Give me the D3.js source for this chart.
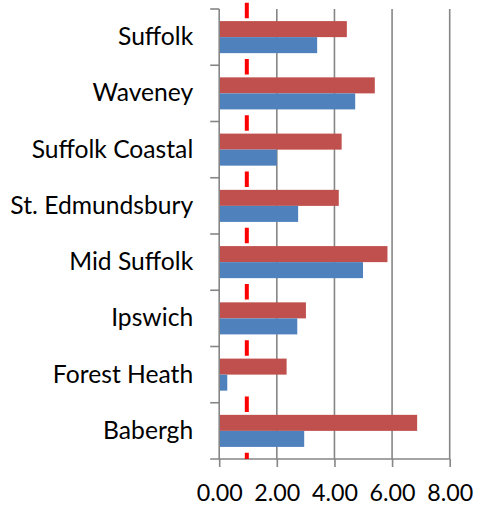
<!DOCTYPE html>
<html>
<head>
<meta charset="utf-8">
<script src="https://cdn.jsdelivr.net/npm/d3@7"></script>
<style>
  html, body { margin: 0; padding: 0; background: #fff; }
  svg { display: block; }
</style>
</head>
<body>
<svg id="chart" width="481" height="513"></svg>
<script>
// ---- data (top-to-bottom order as shown) ----
const categories = ["Suffolk", "Waveney", "Suffolk Coastal", "St. Edmundsbury",
                    "Mid Suffolk", "Ipswich", "Forest Heath", "Babergh"];
const redValues  = [4.43, 5.40, 4.25, 4.15, 5.84, 3.01, 2.34, 6.87];
const blueValues = [3.40, 4.72, 2.00, 2.74, 4.99, 2.71, 0.28, 2.95];
const xTicks = [0, 2, 4, 6, 8];
const referenceValue = 1;

(function () {
// ---- layout ----
const svg = d3.select("#chart");
const pLeft = 219.2, pRight = 449.7, pTop = 9, pBottom = 459;
const fontFamily = "Lato, 'Open Sans', sans-serif";

const x = d3.scaleLinear().domain([0, 8]).range([pLeft, pRight]);
const y = d3.scaleBand().domain(categories).range([pTop, pBottom]).padding(0);
const inner = d3.scaleBand().domain(["red", "blue"])
  .range([0, y.bandwidth()]).paddingInner(0).paddingOuter(0.755);

// measure font sizes to match reference text widths
function fitSize(str, target) {
  const probe = svg.append("text").attr("font-family", fontFamily)
    .attr("font-size", 26).text(str);
  const w = probe.node().getComputedTextLength();
  probe.remove();
  return 26 * target / w;
}
const fs = fitSize("St. Edmundsbury", 183);
const fsTick = fitSize("0.00", 46);

const gridColor = "#868686";

// vertical gridlines
svg.append("g").selectAll("line").data(xTicks.filter(d => d > 0)).join("line")
  .attr("x1", d => x(d)).attr("x2", d => x(d))
  .attr("y1", pTop).attr("y2", pBottom)
  .attr("stroke", gridColor).attr("stroke-width", 1.6);

// bars
const rows = categories.map((c, i) => ({ c, red: redValues[i], blue: blueValues[i] }));
const colors = { red: "#C0504D", blue: "#4F81BD" };
const g = svg.append("g");
["red", "blue"].forEach(s => {
  g.selectAll("rect." + s).data(rows).join("rect")
    .attr("class", s)
    .attr("x", x(0))
    .attr("y", d => y(d.c) + inner(s))
    .attr("width", d => x(d[s]) - x(0))
    .attr("height", inner.bandwidth())
    .attr("fill", colors[s]);
});

// x axis (bottom)
const xAxis = d3.axisBottom(x).tickValues(xTicks).tickSize(8)
  .tickFormat(d3.format(".2f")).tickSizeOuter(0);
const gx = svg.append("g").attr("transform", `translate(0,${pBottom})`).call(xAxis);
gx.select(".domain").remove();
gx.selectAll(".tick line").attr("stroke", gridColor).attr("stroke-width", 1.6);
gx.selectAll(".tick text").attr("font-family", fontFamily).attr("font-size", fsTick)
  .attr("fill", "#000").attr("y", 25).attr("dy", "0.71em");
svg.append("line").attr("x1", pLeft - 9).attr("x2", pRight).attr("y1", pBottom).attr("y2", pBottom)
  .attr("stroke", gridColor).attr("stroke-width", 1.6);

// y axis (left)
const yAxis = d3.axisLeft(y).tickSize(0).tickPadding(26);
const gy = svg.append("g").attr("transform", `translate(${pLeft},0)`).call(yAxis);
gy.select(".domain").remove();
gy.selectAll(".tick text").attr("font-family", fontFamily).attr("font-size", fs).attr("fill", "#000");
svg.append("line").attr("x1", pLeft).attr("x2", pLeft).attr("y1", pTop).attr("y2", pBottom)
  .attr("stroke", gridColor).attr("stroke-width", 1.6);
// category boundary ticks
const bounds = categories.map(c => y(c));
svg.append("g").selectAll("line").data(bounds).join("line")
  .attr("x1", pLeft - 9).attr("x2", pLeft).attr("y1", d => d).attr("y2", d => d)
  .attr("stroke", gridColor).attr("stroke-width", 1.6);

// reference dashed line
svg.append("line")
  .attr("x1", x(referenceValue) - 1.2).attr("x2", x(referenceValue) - 1.2)
  .attr("y1", 2.7).attr("y2", pBottom)
  .attr("stroke", "#FF0000").attr("stroke-width", 4)
  .attr("stroke-dasharray", `15.6 ${y.bandwidth() - 15.6}`);
})();
</script>
</body>
</html>
